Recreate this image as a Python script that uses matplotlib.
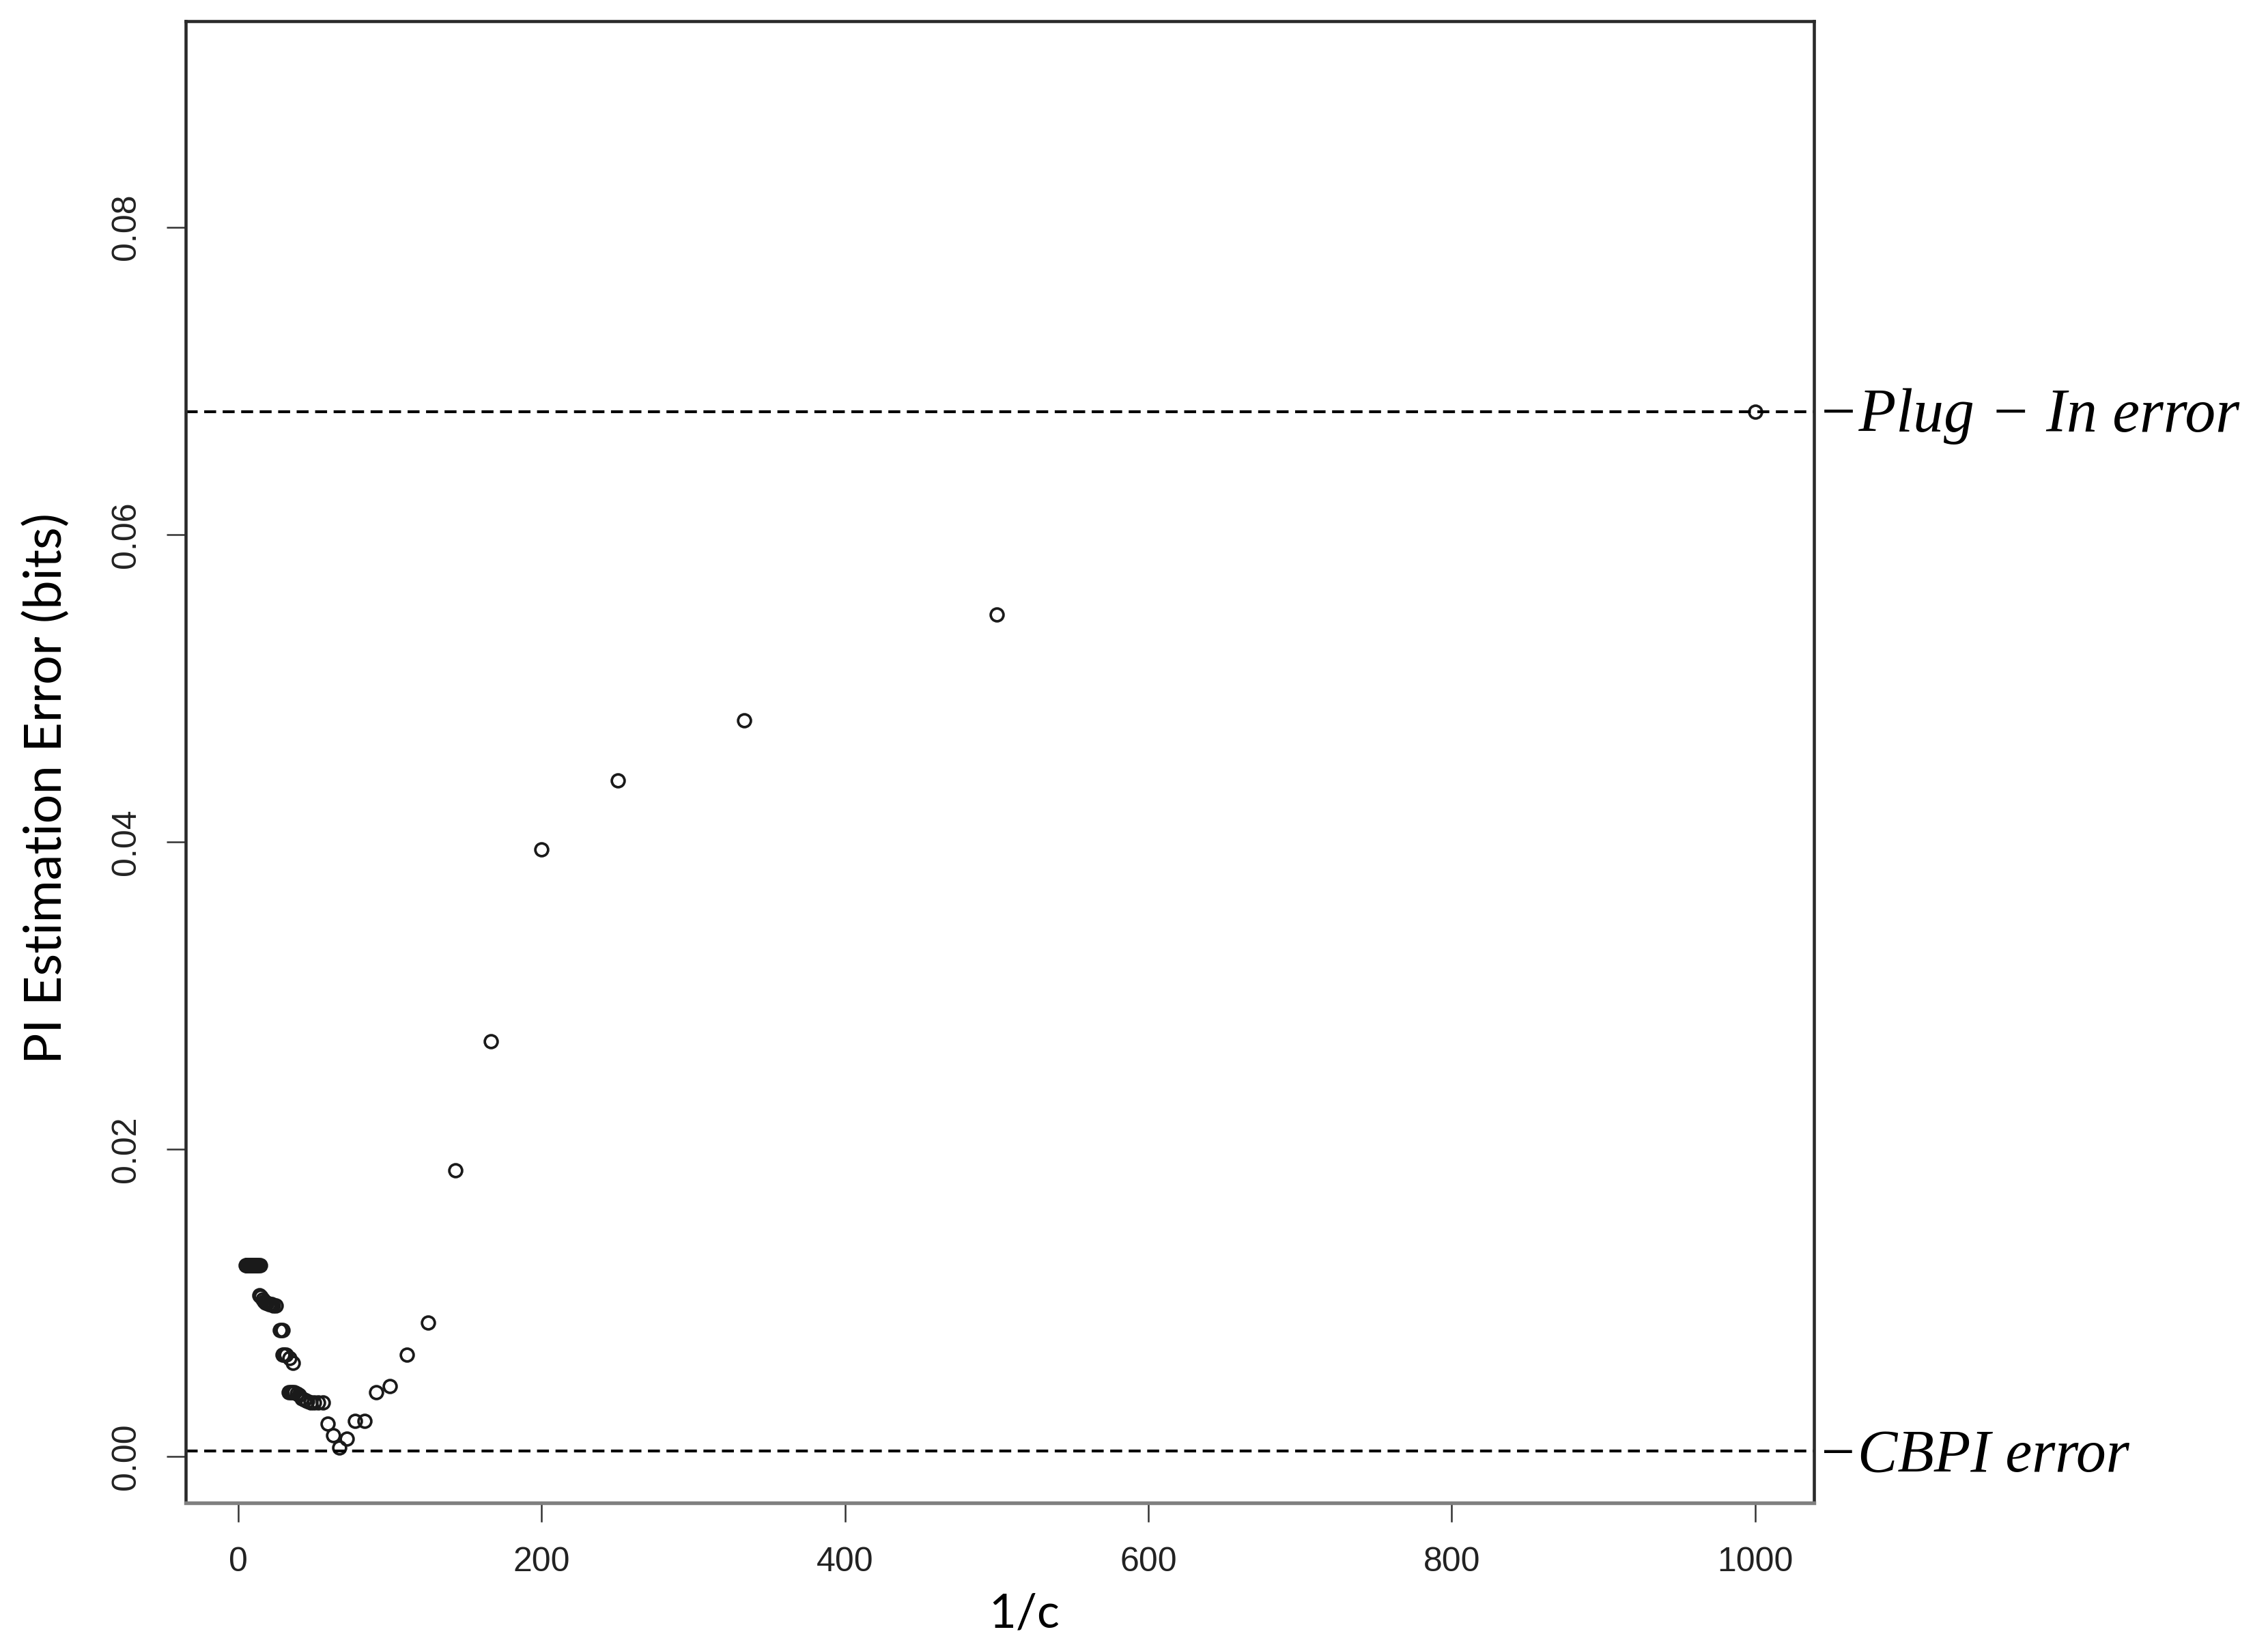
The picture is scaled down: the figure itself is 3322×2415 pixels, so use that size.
import matplotlib
matplotlib.use("Agg")
import matplotlib.pyplot as plt
from matplotlib.transforms import blended_transform_factory

# ---- data ----
# dense cluster (many overlapping points at small 1/c)
inv_c_dense = [5.0, 5.3, 5.6, 6.0, 6.4, 6.8, 7.2, 7.7, 8.2, 8.7, 9.3, 10.0, 10.6,
               11.2, 11.9, 12.7, 13.5, 14.3,
               14.0, 14.7, 16.0, 17.0, 18.0, 19.0, 20.0, 21.0, 22.0, 23.0, 24.5,
               27.5, 28.3, 29.0,
               29.4, 30.3, 31.3, 33.5, 36.0,
               33.3, 34.5, 35.7, 37.0, 38.5, 40.0, 41.7, 43.5, 45.5, 47.6, 50.0,
               52.6, 55.6]
err_dense = [0.01245] * 18 + \
            [0.0105, 0.0104, 0.0102, 0.0101, 0.0100, 0.0100, 0.0099, 0.0099,
             0.0099, 0.0098, 0.0098] + \
            [0.0082, 0.0082, 0.0082] + \
            [0.0066, 0.0066, 0.0066, 0.0064, 0.0061] + \
            [0.0042, 0.0042, 0.0042, 0.0042, 0.0041, 0.0040, 0.0038, 0.0037,
             0.0036, 0.0035, 0.0035, 0.0035, 0.0035]

# sparse points
inv_c_sparse = [58.8, 62.5, 66.7, 71.4, 76.9, 83.3, 90.9, 100.0, 111.1, 125.0,
                142.9, 166.7, 200.0, 250.0, 333.3, 500.0, 1000.0]
err_sparse = [0.00213, 0.00138, 0.00058, 0.00116, 0.00231, 0.00231, 0.0042,
              0.0046, 0.0066, 0.0087, 0.0186, 0.0270, 0.0395, 0.0440, 0.0479,
              0.0548, 0.0680]

plugin_error = 0.0680
cbpi_error = 0.00036

x_ticks = [0, 200, 400, 600, 800, 1000]
y_ticks = [0.00, 0.02, 0.04, 0.06, 0.08]
y_tick_labels = ["0.00", "0.02", "0.04", "0.06", "0.08"]

x_label = "1/c"
y_label = "PI Estimation Error (bits)"
plugin_text = "\u2212Plug \u2212 In error"
cbpi_text = "\u2212CBPI error"

# ---- figure ----
W, H, DPI = 3322, 2415, 300
fig = plt.figure(figsize=(W / DPI, H / DPI), dpi=DPI)
fig.patch.set_facecolor("white")
ax = fig.add_axes([272 / W, 1 - 2201 / H, (2657 - 272) / W, (2201 - 31) / H])

mk = dict(linestyle="none", marker="o", markersize=4.5, markerfacecolor="none",
          markeredgecolor="#1a1a1a", markeredgewidth=0.9)
ax.plot(inv_c_dense, err_dense, **mk)
ax.plot(inv_c_sparse, err_sparse, **mk)

dash = (0, (4.2, 2.3))
ax.axhline(plugin_error, color="black", linewidth=1.0, linestyle=dash)
ax.axhline(cbpi_error, color="black", linewidth=1.0, linestyle=dash)

ax.set_xlim(-34.7, 1038.8)
ax.set_ylim(-0.00302, 0.0934)

ax.set_xticks(x_ticks)
ax.set_xticklabels([str(t) for t in x_ticks])
ax.set_yticks(y_ticks)
ax.set_yticklabels(y_tick_labels, rotation=90, va="center")

for lab in ax.get_xticklabels() + ax.get_yticklabels():
    lab.set_fontfamily("Liberation Sans")
    lab.set_fontsize(12)
    lab.set_color("#222222")

ax.tick_params(axis="both", direction="out", length=6.8, width=0.6,
               color="#333333", pad=8.5)

for side in ["left", "top", "right"]:
    ax.spines[side].set_linewidth(1.1)
    ax.spines[side].set_color("#2a2a2a")
ax.spines["bottom"].set_linewidth(1.3)
ax.spines["bottom"].set_color("#808080")

# right-side annotations
tr = blended_transform_factory(ax.transAxes, ax.transData)
ax.text(1.002, plugin_error - 0.0013, plugin_text, transform=tr,
        ha="left", va="baseline", fontsize=21.5, style="italic",
        family="Liberation Serif", color="black", clip_on=False)
ax.text(1.002, cbpi_error - 0.0013, cbpi_text, transform=tr,
        ha="left", va="baseline", fontsize=21, style="italic",
        family="Liberation Serif", color="black", clip_on=False)

# axis labels (placed as in the reference)
fig.text(68 / W, 1 - 1155 / H, y_label, rotation=90, ha="center", va="center",
         fontsize=18.2, family="Lato", color="black")
fig.text(1500 / W, 1 - 2364 / H, x_label, ha="center", va="center",
         fontsize=16.5, family="Lato", color="black")

fig.savefig("out.png", dpi=DPI, facecolor="white")
